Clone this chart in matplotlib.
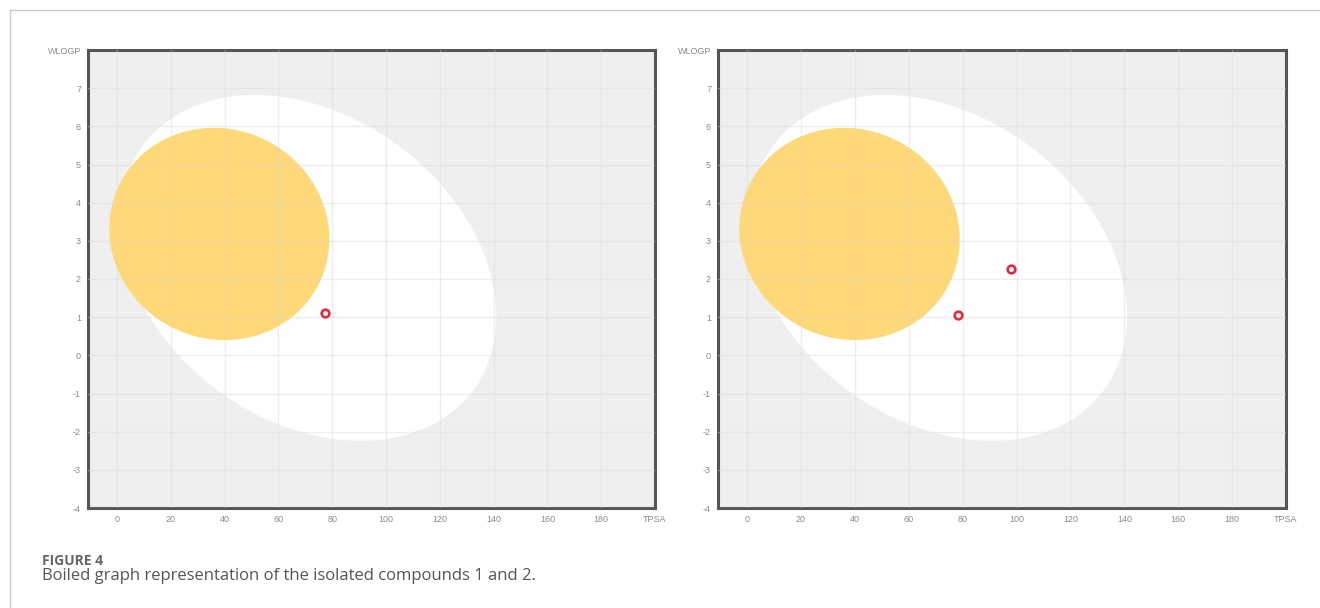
import numpy as np
import matplotlib.pyplot as plt
from matplotlib.lines import Line2D

# BOILED-Egg regions
# ellipse = centre, half ranges along TPSA / WLOGP, tilt (correlation of the two)
white_center = (71.0, 2.29)
white_half = (70.0, 4.53)
white_rho = -0.28

yolk_center = (38.0, 3.18)
yolk_half = (40.9, 2.78)
yolk_rho = -0.05

# compounds
tpsa_1 = [77.2]
wlogp_1 = [1.10]
tpsa_2 = [78.1, 98.1]
wlogp_2 = [1.05, 2.27]

x_ticks = [0, 20, 40, 60, 80, 100, 120, 140, 160, 180, 200]
x_labels = ['0', '20', '40', '60', '80', '100', '120', '140', '160', '180', 'TPSA']
y_ticks = [-4, -3, -2, -1, 0, 1, 2, 3, 4, 5, 6, 7, 8]
y_labels = ['-4', '-3', '-2', '-1', '0', '1', '2', '3', '4', '5', '6', '7', 'WLOGP']


def ellipse(center, half, rho, n=400):
    t = np.linspace(0, 2 * np.pi, n)
    u = np.cos(t)
    v = rho * np.cos(t) + np.sqrt(1 - rho ** 2) * np.sin(t)
    return center[0] + half[0] * u, center[1] + half[1] * v


def egg(ax, xs, ys):
    ax.set_facecolor('#efefef')
    ax.fill(*ellipse(white_center, white_half, white_rho), color='white', lw=0, zorder=1)
    ax.fill(*ellipse(yolk_center, yolk_half, yolk_rho), color='#ffd977', lw=0, zorder=2)
    for x in x_ticks[:-1]:
        ax.axvline(x, color='#d6d6d6', lw=1, alpha=0.4, zorder=3)
    for y in y_ticks[:-1]:
        ax.axhline(y, color='#d6d6d6', lw=1, alpha=0.4, zorder=3)
    ax.plot(xs, ys, 'o', ms=5.5, mfc='white', mec='#e8283c', mew=1.9, zorder=5)
    ax.set_xlim(-10.8, 200)
    ax.set_ylim(-4, 8)
    ax.set_xticks(x_ticks)
    ax.set_xticklabels(x_labels)
    ax.set_yticks(y_ticks)
    ax.set_yticklabels(y_labels)
    ax.tick_params(length=0, labelsize=6.5, labelcolor='#8a8a8a', pad=5)
    for s in ax.spines.values():
        s.set_color('#555555')
        s.set_linewidth(2.2)


plt.rcParams['font.family'] = ['Liberation Sans', 'DejaVu Sans']
fig = plt.figure(figsize=(13.2, 6.08), dpi=100)
ax1 = fig.add_axes([88 / 1320, 100 / 608, 567 / 1320, 458 / 608])
ax2 = fig.add_axes([718 / 1320, 100 / 608, 568 / 1320, 458 / 608])
egg(ax1, tpsa_1, wlogp_1)
egg(ax2, tpsa_2, wlogp_2)

# page frame
fig.add_artist(Line2D([9.5 / 1320, 9.5 / 1320], [0, 1 - 10 / 608], color='#cccccc', lw=1))
fig.add_artist(Line2D([9.5 / 1320, 1], [1 - 10 / 608, 1 - 10 / 608], color='#cccccc', lw=1))

fig.text(42 / 1320, 1 - 565 / 608, 'FIGURE 4', family='Open Sans', weight='bold',
         size=10, color='#666666', va='baseline')
fig.text(42 / 1320, 1 - 580 / 608, 'Boiled graph representation of the isolated compounds 1 and 2.',
         family='Open Sans', size=12, color='#555555', va='baseline')

fig.savefig('out.png', dpi=100)
